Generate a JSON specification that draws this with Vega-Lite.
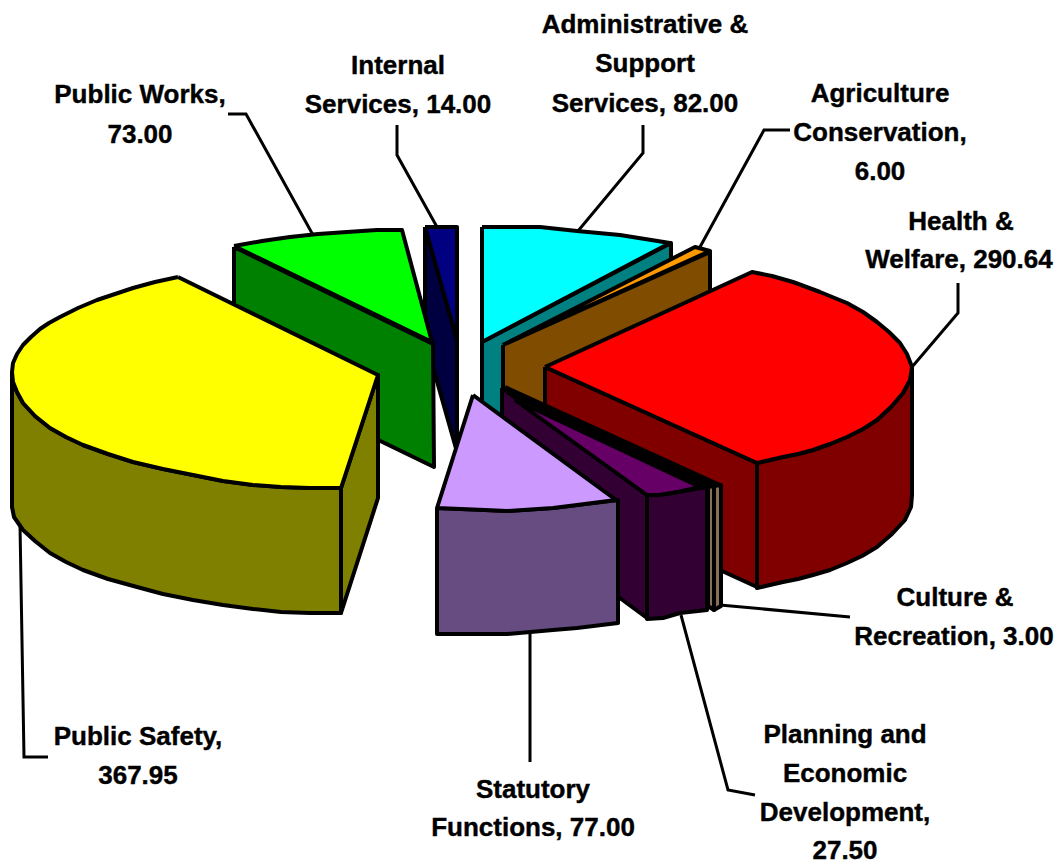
{"$schema":"https://vega.github.io/schema/vega-lite/v6.json","width":1059,"height":865,"padding":0,"autosize":{"type":"none"},"background":"white","config":{"view":{"stroke":null}},
"datasets":{
"faces":[
{"f":"a1","i":0,"x":425,"y":227},{"f":"a1","i":1,"x":457,"y":340},{"f":"a1","i":2,"x":457,"y":452},{"f":"a1","i":3,"x":425,"y":339},{"f":"a1","i":4,"x":425,"y":227},
{"f":"a2","i":0,"x":425,"y":227},{"f":"a2","i":1,"x":457,"y":227},{"f":"a2","i":2,"x":457,"y":340},{"f":"a2","i":3,"x":425,"y":227},
{"f":"b1","i":0,"x":234,"y":247},{"f":"b1","i":1,"x":433,"y":344},{"f":"b1","i":2,"x":434,"y":467},{"f":"b1","i":3,"x":234,"y":370},{"f":"b1","i":4,"x":234,"y":247},
{"f":"b2","i":0,"x":234,"y":246},{"f":"b2","i":1,"x":262,"y":241},{"f":"b2","i":2,"x":290,"y":237},{"f":"b2","i":3,"x":318,"y":234},{"f":"b2","i":4,"x":347,"y":232},{"f":"b2","i":5,"x":377,"y":230},{"f":"b2","i":6,"x":402,"y":230},{"f":"b2","i":7,"x":432,"y":342},{"f":"b2","i":8,"x":234,"y":246},
{"f":"c1","i":0,"x":482,"y":342},{"f":"c1","i":1,"x":671,"y":243},{"f":"c1","i":2,"x":671,"y":366},{"f":"c1","i":3,"x":482,"y":465},{"f":"c1","i":4,"x":482,"y":342},
{"f":"c2","i":0,"x":482,"y":227},{"f":"c2","i":1,"x":540,"y":227},{"f":"c2","i":2,"x":577,"y":231},{"f":"c2","i":3,"x":620,"y":235},{"f":"c2","i":4,"x":670,"y":243},{"f":"c2","i":5,"x":482,"y":342},{"f":"c2","i":6,"x":482,"y":227},
{"f":"d1","i":0,"x":503,"y":345},{"f":"d1","i":1,"x":695,"y":247},{"f":"d1","i":2,"x":710,"y":251},{"f":"d1","i":3,"x":503,"y":345},
{"f":"d2","i":0,"x":503,"y":345},{"f":"d2","i":1,"x":710,"y":252},{"f":"d2","i":2,"x":710,"y":375},{"f":"d2","i":3,"x":503,"y":468},{"f":"d2","i":4,"x":503,"y":345},
{"f":"e1","i":0,"x":545,"y":367},{"f":"e1","i":1,"x":757,"y":463},{"f":"e1","i":2,"x":757,"y":587},{"f":"e1","i":3,"x":545,"y":490},{"f":"e1","i":4,"x":545,"y":367},
{"f":"e2","i":0,"x":757,"y":463},{"f":"e2","i":1,"x":770,"y":460},{"f":"e2","i":2,"x":783,"y":457},{"f":"e2","i":3,"x":798,"y":454},{"f":"e2","i":4,"x":813,"y":450},{"f":"e2","i":5,"x":830,"y":444},{"f":"e2","i":6,"x":847,"y":437},{"f":"e2","i":7,"x":863,"y":429},{"f":"e2","i":8,"x":877,"y":420},{"f":"e2","i":9,"x":891,"y":407},{"f":"e2","i":10,"x":903,"y":393},{"f":"e2","i":11,"x":910,"y":380},{"f":"e2","i":12,"x":912,"y":367},{"f":"e2","i":13,"x":912,"y":495},{"f":"e2","i":14,"x":911,"y":507},{"f":"e2","i":15,"x":905,"y":520},{"f":"e2","i":16,"x":892,"y":534},{"f":"e2","i":17,"x":877,"y":547},{"f":"e2","i":18,"x":862,"y":556},{"f":"e2","i":19,"x":847,"y":563},{"f":"e2","i":20,"x":830,"y":570},{"f":"e2","i":21,"x":813,"y":575},{"f":"e2","i":22,"x":798,"y":579},{"f":"e2","i":23,"x":783,"y":582},{"f":"e2","i":24,"x":770,"y":585},{"f":"e2","i":25,"x":757,"y":588},{"f":"e2","i":26,"x":757,"y":463},
{"f":"e3","i":0,"x":545,"y":367},{"f":"e3","i":1,"x":752,"y":272},{"f":"e3","i":2,"x":772,"y":276},{"f":"e3","i":3,"x":793,"y":282},{"f":"e3","i":4,"x":820,"y":292},{"f":"e3","i":5,"x":847,"y":303},{"f":"e3","i":6,"x":863,"y":312},{"f":"e3","i":7,"x":877,"y":322},{"f":"e3","i":8,"x":889,"y":332},{"f":"e3","i":9,"x":900,"y":343},{"f":"e3","i":10,"x":907,"y":354},{"f":"e3","i":11,"x":912,"y":367},{"f":"e3","i":12,"x":910,"y":380},{"f":"e3","i":13,"x":903,"y":393},{"f":"e3","i":14,"x":891,"y":407},{"f":"e3","i":15,"x":877,"y":420},{"f":"e3","i":16,"x":863,"y":429},{"f":"e3","i":17,"x":847,"y":437},{"f":"e3","i":18,"x":830,"y":444},{"f":"e3","i":19,"x":813,"y":450},{"f":"e3","i":20,"x":798,"y":454},{"f":"e3","i":21,"x":783,"y":457},{"f":"e3","i":22,"x":770,"y":460},{"f":"e3","i":23,"x":757,"y":463},{"f":"e3","i":24,"x":545,"y":367},
{"f":"f1","i":0,"x":341,"y":488},{"f":"f1","i":1,"x":378,"y":375},{"f":"f1","i":2,"x":378,"y":498},{"f":"f1","i":3,"x":341,"y":613},{"f":"f1","i":4,"x":341,"y":488},
{"f":"f2","i":0,"x":12,"y":372},{"f":"f2","i":1,"x":13,"y":382},{"f":"f2","i":2,"x":17,"y":392},{"f":"f2","i":3,"x":23,"y":403},{"f":"f2","i":4,"x":35,"y":416},{"f":"f2","i":5,"x":50,"y":428},{"f":"f2","i":6,"x":66,"y":437},{"f":"f2","i":7,"x":83,"y":445},{"f":"f2","i":8,"x":108,"y":454},{"f":"f2","i":9,"x":133,"y":462},{"f":"f2","i":10,"x":163,"y":469},{"f":"f2","i":11,"x":193,"y":475},{"f":"f2","i":12,"x":223,"y":481},{"f":"f2","i":13,"x":253,"y":485},{"f":"f2","i":14,"x":281,"y":487},{"f":"f2","i":15,"x":310,"y":488},{"f":"f2","i":16,"x":341,"y":488},{"f":"f2","i":17,"x":341,"y":613},{"f":"f2","i":18,"x":310,"y":613},{"f":"f2","i":19,"x":281,"y":612},{"f":"f2","i":20,"x":253,"y":609},{"f":"f2","i":21,"x":223,"y":605},{"f":"f2","i":22,"x":193,"y":600},{"f":"f2","i":23,"x":163,"y":594},{"f":"f2","i":24,"x":137,"y":587},{"f":"f2","i":25,"x":108,"y":579},{"f":"f2","i":26,"x":83,"y":570},{"f":"f2","i":27,"x":66,"y":562},{"f":"f2","i":28,"x":50,"y":553},{"f":"f2","i":29,"x":35,"y":541},{"f":"f2","i":30,"x":23,"y":530},{"f":"f2","i":31,"x":14,"y":517},{"f":"f2","i":32,"x":12,"y":507},{"f":"f2","i":33,"x":12,"y":372},
{"f":"f3","i":0,"x":178,"y":277},{"f":"f3","i":1,"x":155,"y":282},{"f":"f3","i":2,"x":133,"y":288},{"f":"f3","i":3,"x":115,"y":294},{"f":"f3","i":4,"x":97,"y":300},{"f":"f3","i":5,"x":78,"y":308},{"f":"f3","i":6,"x":60,"y":317},{"f":"f3","i":7,"x":49,"y":323},{"f":"f3","i":8,"x":40,"y":329},{"f":"f3","i":9,"x":31,"y":337},{"f":"f3","i":10,"x":23,"y":345},{"f":"f3","i":11,"x":17,"y":354},{"f":"f3","i":12,"x":13,"y":363},{"f":"f3","i":13,"x":12,"y":372},{"f":"f3","i":14,"x":13,"y":382},{"f":"f3","i":15,"x":17,"y":392},{"f":"f3","i":16,"x":23,"y":403},{"f":"f3","i":17,"x":35,"y":416},{"f":"f3","i":18,"x":50,"y":428},{"f":"f3","i":19,"x":66,"y":437},{"f":"f3","i":20,"x":83,"y":445},{"f":"f3","i":21,"x":108,"y":454},{"f":"f3","i":22,"x":133,"y":462},{"f":"f3","i":23,"x":163,"y":469},{"f":"f3","i":24,"x":193,"y":475},{"f":"f3","i":25,"x":223,"y":481},{"f":"f3","i":26,"x":253,"y":485},{"f":"f3","i":27,"x":281,"y":487},{"f":"f3","i":28,"x":310,"y":488},{"f":"f3","i":29,"x":341,"y":488},{"f":"f3","i":30,"x":378,"y":375},{"f":"f3","i":31,"x":178,"y":277},
{"f":"g1","i":0,"x":502,"y":388},{"f":"g1","i":1,"x":647,"y":495},{"f":"g1","i":2,"x":647,"y":618},{"f":"g1","i":3,"x":502,"y":511},{"f":"g1","i":4,"x":502,"y":388},
{"f":"g2","i":0,"x":515,"y":400},{"f":"g2","i":1,"x":700,"y":487},{"f":"g2","i":2,"x":673,"y":493},{"f":"g2","i":3,"x":660,"y":495},{"f":"g2","i":4,"x":647,"y":495},{"f":"g2","i":5,"x":515,"y":400},
{"f":"g3","i":0,"x":505,"y":387},{"f":"g3","i":1,"x":720,"y":485},{"f":"g3","i":2,"x":704,"y":485},{"f":"g3","i":3,"x":517,"y":397},{"f":"g3","i":4,"x":505,"y":387},
{"f":"h1","i":0,"x":714,"y":486},{"f":"h1","i":1,"x":721,"y":485},{"f":"h1","i":2,"x":721,"y":606},{"f":"h1","i":3,"x":714,"y":610},{"f":"h1","i":4,"x":714,"y":486},
{"f":"h2","i":0,"x":708,"y":487},{"f":"h2","i":1,"x":714,"y":486},{"f":"h2","i":2,"x":714,"y":610},{"f":"h2","i":3,"x":708,"y":606},{"f":"h2","i":4,"x":708,"y":487},
{"f":"i1","i":0,"x":647,"y":495},{"f":"i1","i":1,"x":660,"y":495},{"f":"i1","i":2,"x":673,"y":493},{"f":"i1","i":3,"x":707,"y":487},{"f":"i1","i":4,"x":707,"y":610},{"f":"i1","i":5,"x":680,"y":613},{"f":"i1","i":6,"x":663,"y":618},{"f":"i1","i":7,"x":647,"y":619},{"f":"i1","i":8,"x":647,"y":495},
{"f":"j1","i":0,"x":437,"y":508},{"f":"j1","i":1,"x":485,"y":510},{"f":"j1","i":2,"x":507,"y":511},{"f":"j1","i":3,"x":553,"y":508},{"f":"j1","i":4,"x":577,"y":505},{"f":"j1","i":5,"x":618,"y":500},{"f":"j1","i":6,"x":618,"y":623},{"f":"j1","i":7,"x":577,"y":628},{"f":"j1","i":8,"x":553,"y":630},{"f":"j1","i":9,"x":507,"y":634},{"f":"j1","i":10,"x":485,"y":634},{"f":"j1","i":11,"x":437,"y":634},{"f":"j1","i":12,"x":437,"y":508},
{"f":"j2","i":0,"x":473,"y":395},{"f":"j2","i":1,"x":616,"y":500},{"f":"j2","i":2,"x":577,"y":505},{"f":"j2","i":3,"x":553,"y":508},{"f":"j2","i":4,"x":507,"y":511},{"f":"j2","i":5,"x":485,"y":510},{"f":"j2","i":6,"x":437,"y":508},{"f":"j2","i":7,"x":473,"y":395}
],
"leaders":[
{"l":"works","i":0,"x":228,"y":114},{"l":"works","i":1,"x":246,"y":114},{"l":"works","i":2,"x":313,"y":235},
{"l":"internal","i":0,"x":397,"y":125},{"l":"internal","i":1,"x":397,"y":155},{"l":"internal","i":2,"x":437,"y":227},
{"l":"admin","i":0,"x":643,"y":125},{"l":"admin","i":1,"x":643,"y":153},{"l":"admin","i":2,"x":578,"y":231},
{"l":"agri","i":0,"x":790,"y":130},{"l":"agri","i":1,"x":764,"y":130},{"l":"agri","i":2,"x":700,"y":247},
{"l":"health","i":0,"x":958,"y":283},{"l":"health","i":1,"x":958,"y":313},{"l":"health","i":2,"x":912,"y":367},
{"l":"culture","i":0,"x":850,"y":617},{"l":"culture","i":1,"x":720,"y":605},
{"l":"planning","i":0,"x":755,"y":795},{"l":"planning","i":1,"x":728,"y":790},{"l":"planning","i":2,"x":681,"y":615},
{"l":"statutory","i":0,"x":530,"y":630},{"l":"statutory","i":1,"x":530,"y":762},
{"l":"safety","i":0,"x":20,"y":525},{"l":"safety","i":1,"x":24,"y":757},{"l":"safety","i":2,"x":48,"y":757}
],
"labels":[
{"t":"Administrative &","x":645,"y":25},{"t":"Support","x":645,"y":64},{"t":"Services, 82.00","x":645,"y":104},
{"t":"Agriculture","x":880,"y":94},{"t":"Conservation,","x":880,"y":133},{"t":"6.00","x":880,"y":172},
{"t":"Health &","x":961,"y":222},{"t":"Welfare, 290.64","x":959,"y":260},
{"t":"Culture &","x":955,"y":598},{"t":"Recreation, 3.00","x":954,"y":637},
{"t":"Planning and","x":845,"y":735},{"t":"Economic","x":845,"y":774},{"t":"Development,","x":845,"y":813},{"t":"27.50","x":845,"y":851},
{"t":"Statutory","x":533,"y":790},{"t":"Functions, 77.00","x":533,"y":828},
{"t":"Public Safety,","x":138,"y":737},{"t":"367.95","x":138,"y":776},
{"t":"Public Works,","x":140,"y":95},{"t":"73.00","x":140,"y":135},
{"t":"Internal","x":398,"y":66},{"t":"Services, 14.00","x":398,"y":105}
]},
"layer":[
{"data":{"name":"leaders"},"mark":{"type":"line","stroke":"black","strokeWidth":3,"clip":false},"encoding":{
"x":{"field":"x","type":"quantitative","scale":{"domain":[0,1059],"nice":false,"zero":false},"axis":null},
"y":{"field":"y","type":"quantitative","scale":{"domain":[865,0],"nice":false,"zero":false},"axis":null},
"detail":{"field":"l"},"order":{"field":"i"}}},
{"data":{"name":"faces"},"mark":{"type":"line","stroke":"black","strokeWidth":4,"strokeJoin":"round"},"encoding":{
"x":{"field":"x","type":"quantitative","scale":{"domain":[0,1059],"nice":false,"zero":false},"axis":null},
"y":{"field":"y","type":"quantitative","scale":{"domain":[865,0],"nice":false,"zero":false},"axis":null},
"detail":{"field":"f"},"order":{"field":"i"},
"fill":{"field":"f","type":"nominal","legend":null,"scale":{"domain":["a1","a2","b1","b2","c1","c2","d1","d2","e1","e2","e3","f1","f2","f3","g1","g2","g3","h1","h2","i1","j1","j2"],"range":["#000040","#000080","#008000","#00FF00","#008080","#00FFFF","#FF9900","#804D00","#800000","#800000","#FF0000","#808000","#808000","#FFFF00","#330033","#660066","#000000","#86705A","#86705A","#330033","#664C80","#CC99FF"]}}}},
{"data":{"name":"labels"},"mark":{"type":"text","font":"Liberation Sans","fontWeight":"bold","fontSize":26,"align":"center","baseline":"middle","color":"black","stroke":"black","strokeWidth":0.4},"encoding":{
"x":{"field":"x","type":"quantitative","scale":{"domain":[0,1059],"nice":false,"zero":false},"axis":null},
"y":{"field":"y","type":"quantitative","scale":{"domain":[865,0],"nice":false,"zero":false},"axis":null},
"text":{"field":"t"}}}
]}
